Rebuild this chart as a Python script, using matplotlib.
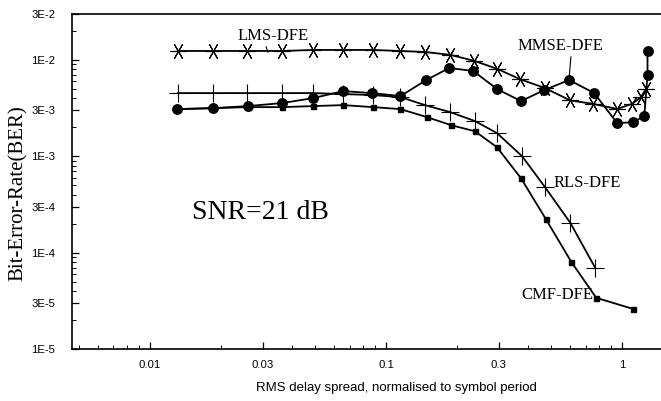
import numpy as np
import matplotlib
matplotlib.use("Agg")
import matplotlib.pyplot as plt
from matplotlib.ticker import FixedLocator, LogLocator, NullFormatter

# Data
lms_x = [0.0131, 0.0185, 0.0258, 0.0363, 0.049, 0.0658, 0.088, 0.115, 0.146,
         0.187, 0.236, 0.295, 0.37, 0.472, 0.602, 0.754, 0.952, 1.10, 1.20, 1.26]
lms_y = [0.0124, 0.0124, 0.0124, 0.0124, 0.0127, 0.0127, 0.0127, 0.0124, 0.0121,
         0.0113, 0.0098, 0.0081, 0.0063, 0.0051, 0.0038, 0.0035, 0.0031, 0.0035,
         0.0041, 0.0050]

mmse_x = [0.0130, 0.0185, 0.0259, 0.0363, 0.0491, 0.0658, 0.0872, 0.115, 0.148,
          0.185, 0.234, 0.295, 0.373, 0.467, 0.596, 0.761, 0.952, 1.11, 1.24,
          1.28, 1.28]
mmse_y = [0.00309, 0.00316, 0.00332, 0.00357, 0.00402, 0.00475, 0.00453, 0.00422,
          0.00619, 0.00826, 0.00768, 0.00499, 0.00374, 0.00487, 0.00619, 0.00453,
          0.00221, 0.00226, 0.00261, 0.00698, 0.0124]

rls_x = [0.0131, 0.0185, 0.0258, 0.0363, 0.049, 0.0658, 0.088, 0.115, 0.146,
         0.187, 0.238, 0.295, 0.377, 0.472, 0.602, 0.768]
rls_y = [0.00453, 0.00453, 0.00453, 0.00453, 0.00453, 0.00443, 0.00432, 0.00412,
         0.00340, 0.00287, 0.00232, 0.00174, 0.00100, 0.000475, 0.000205, 6.98e-5]

cmf_x = [0.0130, 0.0185, 0.0259, 0.0363, 0.049, 0.0658, 0.088, 0.115, 0.149,
         0.189, 0.238, 0.295, 0.373, 0.476, 0.608, 0.776, 1.11]
cmf_y = [0.00309, 0.00316, 0.00324, 0.00324, 0.00332, 0.00340, 0.00324, 0.00309,
         0.00255, 0.00210, 0.00182, 0.00124, 0.00059, 0.000221, 8.05e-5, 3.4e-5,
         2.61e-5]

x_ticks = [0.01, 0.03, 0.1, 0.3, 1]
x_ticklabels = ["0.01", "0.03", "0.1", "0.3", "1"]
y_ticks = [1e-5, 3e-5, 1e-4, 3e-4, 1e-3, 3e-3, 1e-2, 3e-2]
y_ticklabels = ["1E-5", "3E-5", "1E-4", "3E-4", "1E-3", "3E-3", "1E-2", "3E-2"]

serif = ["Liberation Serif", "DejaVu Serif"]
sans = ["Liberation Sans", "DejaVu Sans"]

# Plotting
fig = plt.figure(figsize=(6.61, 4.01), dpi=100)
ax = fig.add_axes([72 / 661, 1 - 349 / 401, 1 - 72 / 661, (349 - 14) / 401])
ax.set_xscale("log")
ax.set_yscale("log")
ax.set_xlim(0.00467, 1.46)
ax.set_ylim(1e-5, 3e-2)

lw = 1.3
ax.plot(cmf_x, cmf_y, color="k", lw=lw, marker="s", ms=3.6, zorder=2)
ax.plot(rls_x, rls_y, color="k", lw=lw, marker="+", ms=13, mew=0.8, zorder=2)
ax.plot(lms_x, lms_y, color="k", lw=lw, marker=(6, 2, 30), ms=12, mew=0.8,
        zorder=3)
ax.plot(mmse_x, mmse_y, color="k", lw=lw, marker="o", ms=6.8, zorder=4)

# Curve labels
ax.annotate("LMS-DFE", xy=(0.0316, 0.0120), xytext=(0.0332, 0.0178),
            ha="center", va="center", fontsize=12, family=serif,
            arrowprops=dict(arrowstyle="-", color="k", lw=0.8,
                            relpos=(0.38, 0.1), shrinkA=0, shrinkB=0))
ax.annotate("MMSE-DFE", xy=(0.596, 0.0066), xytext=(0.546, 0.0140),
            ha="center", va="center", fontsize=12, family=serif,
            arrowprops=dict(arrowstyle="-", color="k", lw=0.8,
                            relpos=(0.63, 0.1), shrinkA=0, shrinkB=0))
ax.text(0.51, 5.23e-4, "RLS-DFE", ha="left", va="center", fontsize=12,
        family=serif)
ax.text(0.754, 3.65e-5, "CMF-DFE", ha="right", va="center", fontsize=12,
        family=serif)
ax.text(0.01507, 2.61e-4, "SNR=21 dB", ha="left", va="center", fontsize=20,
        family=serif)

# Axes styling
ax.spines["right"].set_visible(False)
for s in ("left", "bottom", "top"):
    ax.spines[s].set_linewidth(1.2)

ax.xaxis.set_major_locator(FixedLocator(x_ticks))
ax.set_xticklabels(x_ticklabels)
ax.xaxis.set_minor_locator(LogLocator(base=10, subs=(2, 4, 5, 6, 7, 8, 9)))
ax.xaxis.set_minor_formatter(NullFormatter())
ax.yaxis.set_major_locator(FixedLocator(y_ticks))
ax.set_yticklabels(y_ticklabels)
ax.yaxis.set_minor_locator(LogLocator(base=10, subs=(2, 4, 5, 6, 7, 8, 9)))
ax.yaxis.set_minor_formatter(NullFormatter())

ax.tick_params(which="both", direction="in", top=False, right=False)
ax.tick_params(which="major", length=5, width=0.9)
ax.tick_params(which="minor", length=3, width=0.7)
ax.tick_params(axis="y", which="major", pad=12)
ax.tick_params(axis="x", which="major", pad=8)
for lab in ax.get_xticklabels() + ax.get_yticklabels():
    lab.set_family(sans)
    lab.set_fontsize(8.2)

ax.set_xlabel("RMS delay spread, normalised to symbol period", family=sans,
              fontsize=9.5)
ax.xaxis.set_label_coords(0.55, -0.1)
fig.text(18 / 661, 1 - 193 / 401, "Bit-Error-Rate(BER)", rotation=90,
         ha="center", va="center", fontsize=15, family=serif)

fig.savefig("out.png", dpi=100)
